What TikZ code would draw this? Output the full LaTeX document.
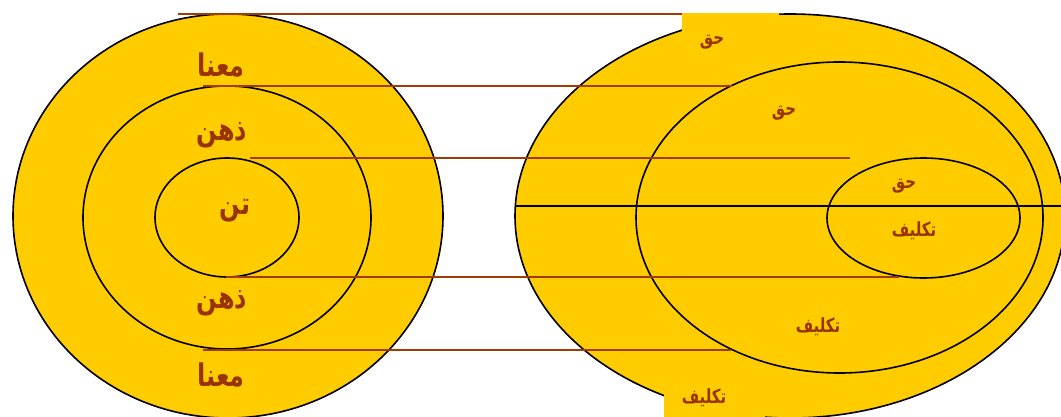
\documentclass[tikz,border=0pt]{standalone}
\usepackage{fontspec}
\usepackage{graphicx}
\newfontfamily\arfont[Script=Arabic,BoldFont={DejaVu Sans Bold}]{DejaVu Sans}
\TeXXeTstate=1
\newcommand{\artxt}[1]{\scalebox{1}[1.3]{\beginR #1\endR}}
\definecolor{ringyellow}{HTML}{FFCC00}
\definecolor{linebrown}{HTML}{A03C00}
\definecolor{textbrown}{HTML}{993300}
\tikzset{
  ring/.style={fill=ringyellow,draw=black,line width=1.6pt},
  guide/.style={draw=linebrown,line width=1.3pt},
  axisline/.style={draw=black,line width=1.5pt},
  biglbl/.style={text=textbrown,font=\arfont\bfseries\fontsize{24}{28}\selectfont,inner sep=0pt},
  smalllbl/.style={text=textbrown,font=\arfont\bfseries\fontsize{15}{18}\selectfont,inner sep=0pt},
  patch/.style={fill=ringyellow,draw=none}
}
\begin{document}
\begin{tikzpicture}[x=1pt,y=-1pt]
\useasboundingbox (0,0) rectangle (1061,417);
\clip (0,0) rectangle (1061,417);
\fill[white] (0,0) rectangle (1061,417);
% left rings
\draw[ring] (228,216) ellipse [x radius=215pt, y radius=202pt];
\draw[ring] (227,217.5) ellipse [x radius=144pt, y radius=131.5pt];
\draw[ring] (227,217.5) ellipse [x radius=72pt, y radius=59.5pt];
% right rings
\draw[ring] (790,216) ellipse [x radius=275pt, y radius=202pt];
\draw[ring] (839.5,217.5) ellipse [x radius=203.5pt, y radius=155.5pt];
\draw[ring] (923.5,218) ellipse [x radius=96.5pt, y radius=60pt];
\coordinate (axL) at (515,206);
\coordinate (axR) at (1061,206);
\draw[axisline] (axL) -- (axR);
% patches behind labels
\fill[patch] (682,13.5) rectangle (779,50);
\fill[patch] (664,382) rectangle (765,417);
% guide lines
\coordinate (g1a) at (178,14); \coordinate (g1b) at (682,14);
\coordinate (g2a) at (203,86); \coordinate (g2b) at (732,86);
\coordinate (g3a) at (250,158); \coordinate (g3b) at (850,158);
\coordinate (g4a) at (226,277); \coordinate (g4b) at (899,277);
\coordinate (g5a) at (203,350); \coordinate (g5b) at (731,350);
\draw[guide] (g1a) -- (g1b);
\draw[guide] (g2a) -- (g2b);
\draw[guide] (g3a) -- (g3b);
\draw[guide] (g4a) -- (g4b);
\draw[guide] (g5a) -- (g5b);
% left labels
\node[biglbl] (ma1) at (221,65) {\artxt{معنا}};
\node[biglbl] (zh1) at (222,135) {\artxt{ذهن}};
\node[biglbl] (tn) at (235,211) {\artxt{تن}};
\node[biglbl] (zh2) at (222,303) {\artxt{ذهن}};
\node[biglbl] (ma2) at (221,375) {\artxt{معنا}};
% right labels
\node[smalllbl] (h1) at (712,42) {\artxt{حق}};
\node[smalllbl] (h2) at (784,113) {\artxt{حق}};
\node[smalllbl] (h3) at (904,186) {\artxt{حق}};
\node[smalllbl] (t3) at (914,231) {\artxt{تكليف}};
\node[smalllbl] (t2) at (818,327) {\artxt{تكليف}};
\node[smalllbl] (t1) at (704,398) {\artxt{تكليف}};
\end{tikzpicture}
\end{document}
